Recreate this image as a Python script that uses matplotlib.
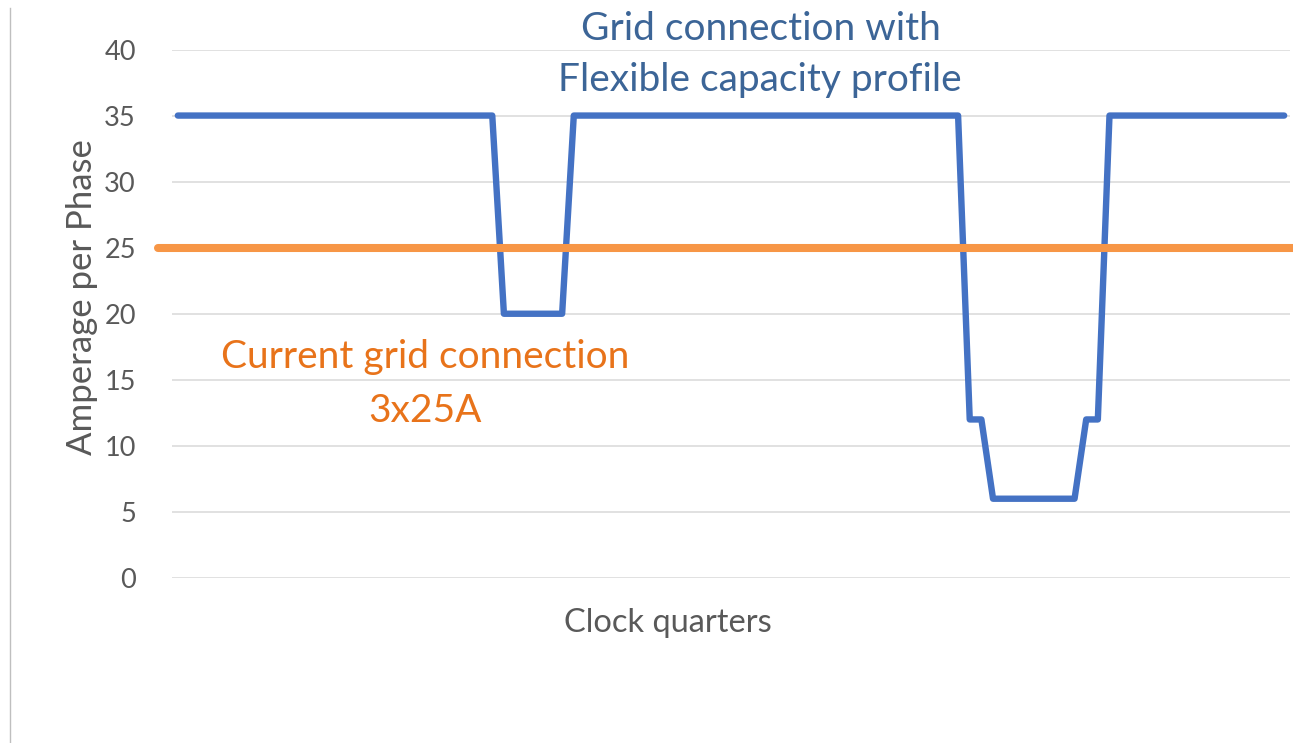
import matplotlib
matplotlib.use("Agg")
import matplotlib.pyplot as plt
from matplotlib.lines import Line2D

# ---- data ----
quarters = list(range(96))
flex_capacity = ([35] * 28 + [20] * 6 + [35] * 34 + [12] * 2 + [6] * 8 + [12] * 2 + [35] * 16)
current_connection = 25
y_ticks = [0, 5, 10, 15, 20, 25, 30, 35, 40]

W, H = 1293, 743
plt.rcParams['font.family'] = ['Lato', 'DejaVu Sans']

fig = plt.figure(figsize=(W / 100, H / 100), dpi=100)
fig.patch.set_facecolor('white')

def fx(px):
    return px / W

def fy(py):
    return 1 - py / H

ax = fig.add_axes([fx(172), fy(578), fx(1290) - fx(172), fy(49.5) - fy(578)])
ax.set_xlim(-0.5, len(quarters) - 0.5)
ax.set_ylim(0, 40)
ax.set_yticks(y_ticks)
ax.set_xticks([])
for s in ax.spines.values():
    s.set_visible(False)
ax.grid(axis='y', color='#D9D9D9', linewidth=1.1)
ax.set_axisbelow(True)
ax.tick_params(axis='y', length=0, pad=26, labelsize=19.5, labelcolor='#595959')

ax.plot(quarters, flex_capacity, color='#4472C4', linewidth=4.6,
        solid_capstyle='round', solid_joinstyle='round', zorder=3)
ax.axhline(current_connection, xmin=-0.0125, xmax=1.01, color='#F79646',
           linewidth=5.8, solid_capstyle='round', clip_on=False, zorder=4)

# texts
blue_txt = '#3C6597'
orange_txt = '#E8731A'
fig.text(fx(761), fy(39.5), 'Grid connection with', ha='center', va='baseline',
         fontsize=28, color=blue_txt)
fig.text(fx(760), fy(91), 'Flexible capacity profile', ha='center', va='baseline',
         fontsize=28, color=blue_txt)
fig.text(fx(425), fy(367.7), 'Current grid connection', ha='center', va='baseline',
         fontsize=28, color=orange_txt)
fig.text(fx(425.5), fy(421.7), '3x25A', ha='center', va='baseline',
         fontsize=28, color=orange_txt)
fig.text(fx(668), fy(631.7), 'Clock quarters', ha='center', va='baseline',
         fontsize=23.5, color='#595959')
fig.text(fx(82), fy(297.5), 'Amperage per Phase', ha='center', va='center',
         rotation=90, fontsize=25, color='#595959')

# left border line
fig.add_artist(Line2D([fx(10), fx(10)], [fy(8), fy(743)], color='#BFBFBF',
                      linewidth=1.0, transform=fig.transFigure))

fig.savefig('out.png', dpi=100, facecolor='white')
